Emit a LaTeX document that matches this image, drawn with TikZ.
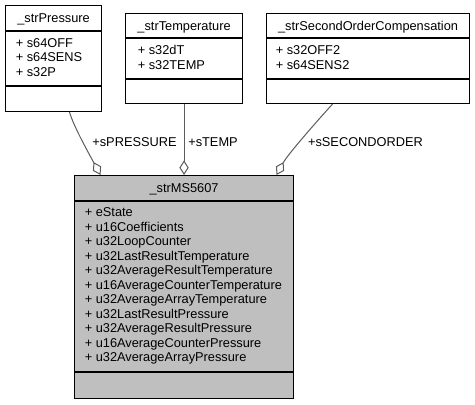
\documentclass[tikz,border=0pt]{standalone}
\usepackage{fontspec}
\setmainfont{Liberation Sans}
\usetikzlibrary{calc,arrows.meta}
\definecolor{ClassGray}{HTML}{BFBFBF}
\definecolor{EdgeGray}{HTML}{5C5C5C}

\tikzset{
  classbox/.style={draw=black, line width=0.8pt, inner sep=0pt, anchor=north west},
  classtitle/.style={inner sep=0pt, anchor=base, font=\fontsize{9.6pt}{10.875pt}\selectfont},
  members/.style={inner sep=0pt, anchor=base west, align=left, font=\fontsize{9.6pt}{10.875pt}\selectfont},
  assoc/.style={draw=EdgeGray, line width=0.75pt, -{Diamond[open, length=11pt, width=7pt]}},
  rolelabel/.style={inner sep=0pt, anchor=base, font=\fontsize{9.6pt}{10.875pt}\selectfont}
}

\begin{document}
\begin{tikzpicture}[x=0.75pt, y=-0.75pt]
  \path[use as bounding box, fill=white] (0,0) rectangle (475,404);

  \node[classbox, minimum width=72pt, minimum height=79.5pt] (press) at (5,5) {};
  \node[classbox, minimum width=87.75pt, minimum height=67.5pt] (temp) at (125,13) {};
  \node[classbox, minimum width=152.25pt, minimum height=67.5pt] (second) at (266,13) {};
  \node[classbox, fill=ClassGray, minimum width=164.25pt, minimum height=167.25pt] (ms) at (74,175) {};

  % compartments
  \draw[line width=0.8pt] (press.west |- 0,31) -- (press.east |- 0,31);
  \draw[line width=0.8pt] (press.west |- 0,86) -- (press.east |- 0,86);
  \draw[line width=0.8pt] (temp.west |- 0,38) -- (temp.east |- 0,38);
  \draw[line width=0.8pt] (temp.west |- 0,79) -- (temp.east |- 0,79);
  \draw[line width=0.8pt] (second.west |- 0,38) -- (second.east |- 0,38);
  \draw[line width=0.8pt] (second.west |- 0,79) -- (second.east |- 0,79);
  \draw[line width=0.8pt] (ms.west |- 0,201) -- (ms.east |- 0,201);
  \draw[line width=0.8pt] (ms.west |- 0,372) -- (ms.east |- 0,372);

  \node[classtitle] (presstitle) at ($(press.north)+(0,17.5)$) {\_strPressure};
  \node[classtitle] (temptitle) at ($(temp.north)+(0,17)$) {\_strTemperature};
  \node[classtitle] (secondtitle) at ($(second.north)+(0,17)$) {\_strSecondOrderCompensation};
  \node[classtitle] (mstitle) at ($(ms.north)+(0,17.5)$) {\_strMS5607};

  % base of a list is the baseline of its last line
  \node[members] (pressmem) at ($(press.north west)+(10.5,71)$) {+ s64OFF\\+ s64SENS\\+ s32P};
  \node[members] (tempmem) at ($(temp.north west)+(12.5,56)$) {+ s32dT\\+ s32TEMP};
  \node[members] (secondmem) at ($(second.north west)+(9.5,56)$) {+ s32OFF2\\+ s64SENS2};
  \node[members] (msmem) at ($(ms.north west)+(10.5,186.5)$) {+ eState\\+ u16Coefficients\\+ u32LoopCounter\\+ u32LastResultTemperature\\+ u32AverageResultTemperature\\+ u16AverageCounterTemperature\\+ u32AverageArrayTemperature\\+ u32LastResultPressure\\+ u32AverageResultPressure\\+ u16AverageCounterPressure\\+ u32AverageArrayPressure};

  \draw[assoc] ($(press.south)+(16,0)$) .. controls (73,125) and (88,152) .. ($(ms.north)+(-83.5,0)$);
  \draw[assoc] (temp.south) -- (ms.north);
  \draw[assoc] ($(second.south)+(-35.5,0)$) .. controls (318,120) and (288,154) .. ($(ms.north)+(92.5,0)$);

  \node[rolelabel] (presslabel) at (134.5,146.5) {+sPRESSURE};
  \node[rolelabel] (templabel) at (213,146.5) {+sTEMP};
  \node[rolelabel] (secondlabel) at (365.5,146.5) {+sSECONDORDER};
\end{tikzpicture}
\end{document}
